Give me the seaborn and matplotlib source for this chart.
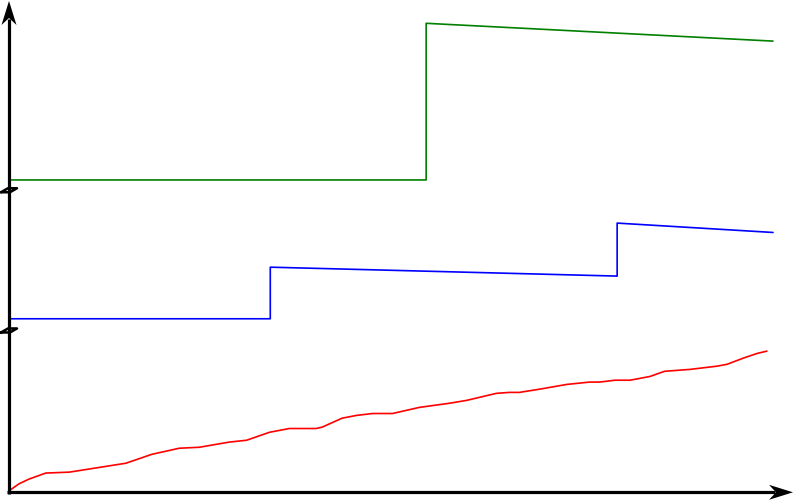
import numpy as np
import pandas as pd
import matplotlib
matplotlib.use("Agg")
import matplotlib.pyplot as plt
import seaborn as sns
from matplotlib.patches import Polygon

sns.set_theme(style="white")

# ---- data (arbitrary units) ----
green_x = [0.0, 54.6, 54.6, 100.0]
green_y = [66.6, 66.6, 100.0, 96.2]

blue_x = [0.0, 34.2, 34.2, 79.6, 79.6, 100.0]
blue_y = [37.0, 37.0, 48.0, 46.1, 57.4, 55.4]

red_x = [0.0, 1.3, 2.6, 4.8, 7.9, 11.8, 15.3, 18.7, 22.3, 24.9, 28.8, 31.1,
         34.1, 36.7, 40.2, 41.0, 43.6, 45.5, 47.6, 50.2, 53.7, 57.7, 59.9,
         63.8, 65.5, 66.8, 69.5, 73.0, 76.0, 77.3, 79.3, 81.3, 83.9, 85.8,
         89.1, 92.7, 94.0, 96.1, 97.9, 99.2]
red_y = [0.3, 1.8, 2.8, 4.1, 4.3, 5.3, 6.2, 8.1, 9.4, 9.6, 10.7, 11.1,
         12.8, 13.6, 13.6, 13.9, 15.8, 16.4, 16.8, 16.8, 18.1, 19.0, 19.6,
         21.1, 21.3, 21.3, 22.0, 23.0, 23.5, 23.5, 23.9, 23.9, 24.7, 25.8,
         26.2, 26.9, 27.3, 28.6, 29.6, 30.1]

break_y = [64.3, 34.4]

# ---- figure ----
W, H = 796, 502
fig = plt.figure(figsize=(W / 100, H / 100), dpi=100)
ax = fig.add_axes([0, 0, 1, 1])

px_x = 7.64   # pixels per x unit
px_y = 4.69   # pixels per y unit
ox, oy = 9.0, 493.3  # origin in pixels (from top-left)
ax.set_xlim(-ox / px_x, (W - ox) / px_x)
ax.set_ylim(-(H - oy) / px_y, oy / px_y)

def draw(xs, ys, color):
    df = pd.DataFrame({"x": xs, "y": ys})
    sns.lineplot(data=df, x="x", y="y", sort=False, estimator=None,
                 color=color, lw=1.2, ax=ax)

draw(green_x, green_y, "#008000")
draw(blue_x, blue_y, "#0000ff")
draw(red_x, red_y, "#ff0000")

for s in ax.spines.values():
    s.set_visible(False)
ax.set_xticks([])
ax.set_yticks([])
ax.set_xlabel("")
ax.set_ylabel("")
ax.grid(False)

# axes lines
x_tip = (793 - ox) / px_x
y_tip = (oy - 2) / px_y
ax.plot([-0.2, x_tip - 18 / px_x], [0, 0], color="black", lw=2.3,
        solid_capstyle="butt", zorder=5, clip_on=False)
ax.plot([0, 0], [-0.4, y_tip - 18 / px_y], color="black", lw=2.3,
        solid_capstyle="butt", zorder=5, clip_on=False)

# stealth-style arrow heads
hx = np.array([0, -24, -17, -24]) / px_x
hy = np.array([0, 7.5, 0, -7.5]) / px_y
ax.add_patch(Polygon(np.c_[x_tip + hx, hy], closed=True, color="black",
                     lw=0, zorder=6, clip_on=False))
vx = np.array([0, -7.5, 0, 7.5]) / px_x
vy = np.array([0, -24, -17, -24]) / px_y
ax.add_patch(Polygon(np.c_[vx, y_tip + vy], closed=True, color="black",
                     lw=0, zorder=6, clip_on=False))

# axis break marks
bx = np.array([-8, -1, 8, 1, -8]) / px_x
by = np.array([-1.5, 2.5, 2.5, -1.5, -1.5]) / px_y
for yb in break_y:
    ax.plot(bx, yb + by, color="black", lw=1.8, zorder=6, clip_on=False)

fig.savefig("out.png", dpi=100)
